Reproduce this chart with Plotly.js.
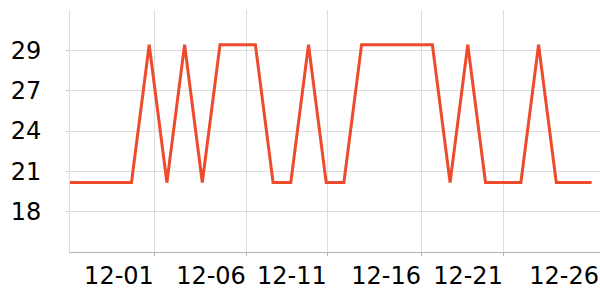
<!DOCTYPE html>
<html>
<head>
<meta charset="utf-8">
<script src="https://cdn.plot.ly/plotly-3.0.1.min.js"></script>
<style>html,body{margin:0;padding:0;background:#fff;}#chart{width:600px;height:300px;}</style>
</head>
<body>
<div id="chart"></div>
<script>
// Data
const dates = [
  '2023-11-26','2023-11-27','2023-11-28','2023-11-29','2023-11-30',
  '2023-12-01','2023-12-02','2023-12-03','2023-12-04','2023-12-05',
  '2023-12-06','2023-12-07','2023-12-08','2023-12-09','2023-12-10',
  '2023-12-11','2023-12-12','2023-12-13','2023-12-14','2023-12-15',
  '2023-12-16','2023-12-17','2023-12-18','2023-12-19','2023-12-20',
  '2023-12-21','2023-12-22','2023-12-23','2023-12-24','2023-12-25',
  '2023-12-26'
];
const values = [
  20.4, 20.4, 20.4, 20.4, 20.4,
  30.3, 20.4, 30.3, 20.4, 30.3,
  30.3, 30.3, 20.4, 20.4, 30.3,
  20.4, 20.4, 30.3, 30.3, 30.3,
  30.3, 30.3, 20.4, 30.3, 20.4,
  20.4, 20.4, 30.3, 20.4, 20.4,
  20.4
];
const xTickVals = ['2023-12-01 07:41','2023-12-06 12:29','2023-12-11 02:10','2023-12-16 09:50','2023-12-21 01:00','2023-12-26 11:17'];
const xTickText = ['12-01','12-06','12-11','12-16','12-21','12-26'];
const yTickVals = [18.3, 21.2, 24.1, 27.0, 29.9];
const yTickText = ['18','21','24','27','29'];

const trace = {
  x: dates, y: values, type: 'scatter', mode: 'lines',
  line: {color: '#ee4a2c', width: 3},
  hoverinfo: 'skip'
};
const font = {family: 'DejaVu Sans', size: 24, color: '#000'};
const layout = {
  width: 600, height: 300,
  margin: {l: 70, r: 0, t: 10, b: 48},
  paper_bgcolor: '#fff', plot_bgcolor: '#fff',
  showlegend: false,
  xaxis: {
    type: 'date',
    range: ['2023-11-26 12:37', '2023-12-26 11:17'],
    tickmode: 'array', tickvals: xTickVals, ticktext: xTickText,
    ticklabelposition: 'outside left',
    tickfont: font,
    showgrid: true, gridcolor: '#dcdcdc', gridwidth: 1,
    showline: true, linecolor: '#b4b4b4', linewidth: 1,
    ticks: 'outside', ticklen: 3, tickcolor: '#b4b4b4',
    ticklabelstandoff: 2,
    zeroline: false
  },
  yaxis: {
    range: [15.4, 32.8],
    tickmode: 'array', tickvals: yTickVals, ticktext: yTickText,
    tickfont: font,
    showgrid: true, gridcolor: '#dcdcdc', gridwidth: 1,
    showline: true, linecolor: '#dcdcdc', linewidth: 1,
    ticks: 'outside', ticklen: 3, tickcolor: '#cccccc',
    ticklabelstandoff: 20,
    zeroline: false
  }
};
Plotly.newPlot('chart', [trace], layout, {displayModeBar: false, staticPlot: true});
</script>
</body>
</html>
